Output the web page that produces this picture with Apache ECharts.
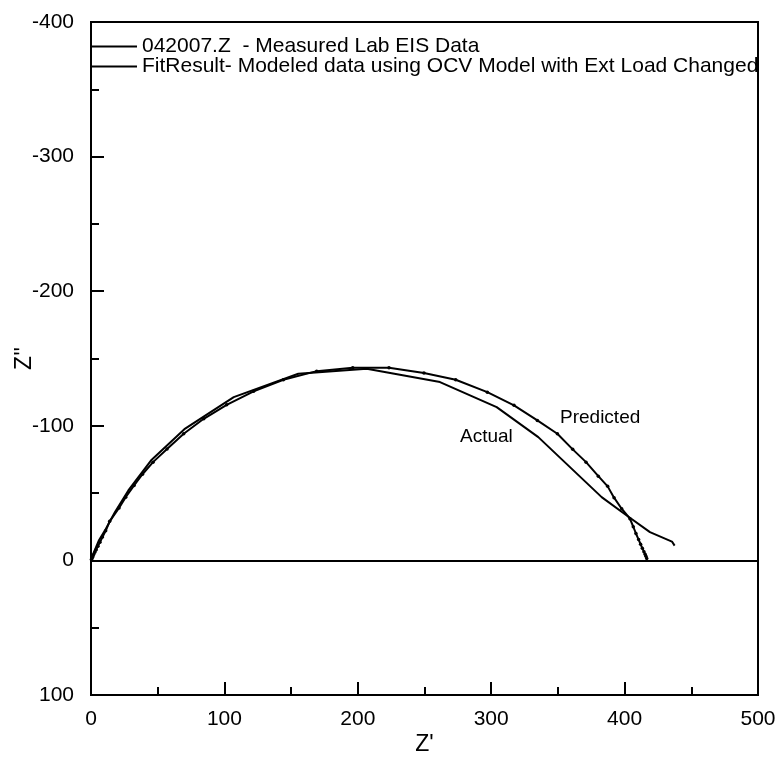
<!DOCTYPE html>
<html>
<head>
<meta charset="utf-8">
<title>EIS Nyquist</title>
<script src="https://cdn.jsdelivr.net/npm/echarts@6/dist/echarts.min.js"></script>
<style>
    html, body { margin: 0; padding: 0; background: #fff; }
    #chart { width: 775px; height: 772px; }
</style>
</head>
<body>
<div id="chart"></div>
<script>
// 坐标轴刻度
var xTicks = [0, 100, 200, 300, 400, 500];
var yTicks = [-400, -300, -200, -100, 0, 100];

// 042007.Z 实测数据 (Actual)
var measuredZre = [0, 1, 3, 6, 10.5, 18, 28, 45.5, 70, 107, 155.4, 206.7, 261.6, 304.1, 335.3, 382.8, 401.6, 419, 435.5, 437.5];
var measuredZim = [0, -3, -8, -15, -22.3, -36, -52, -74.8, -97.5, -121.3, -138.7, -142.4, -132.5, -113.9, -91.6, -47, -33.4, -21, -14, -11];

// FitResult 模型数据 (Predicted)
var fitZre = [0.3, 0.7, 1.1, 1.6, 2.2, 3, 3.9, 5.2, 6.7, 8.6, 11, 14, 21, 26, 32.3, 38.6, 46.5, 57, 69.5, 84.5, 101.7, 121.9, 144.2, 169.2, 196.2, 223.4, 249.6, 273.4, 297.1, 317.1, 334.6, 349.6, 361.1, 371.1, 380.3, 387.3, 392.1, 397.8, 404, 406.5, 408.5, 410.5, 412, 413.3, 414.5, 415.4, 416, 416.6];
var fitZim = [-0.6, -1.4, -2.3, -3.4, -4.7, -6.3, -8, -10.6, -13.5, -17.3, -22, -29, -39, -47, -55.7, -64, -73, -82.7, -94.1, -105.2, -115.6, -125.6, -134.2, -140.6, -143.2, -143.2, -139.2, -134.2, -125, -115.2, -104, -94.1, -82.5, -73, -62.6, -55, -46.6, -38.4, -31, -25, -20, -15.5, -12, -9, -6.5, -4.5, -3, -1.5];

var legendNames = ['042007.Z  - Measured Lab EIS Data', 'FitResult- Modeled data using OCV Model with Ext Load Changed'];

var font = 'Arial, "Liberation Sans", sans-serif';

function pairs(xs, ys) {
    return xs.map(function (x, i) { return [x, ys[i]]; });
}

var chart = echarts.init(document.getElementById('chart'));

var option = {
    backgroundColor: '#fff',
    animation: false,
    grid: {
        left: 91, top: 22, width: 667, height: 673,
        outerBoundsMode: 'none',
        containLabel: false,
        show: true, borderColor: '#000', borderWidth: 2, backgroundColor: 'transparent'
    },
    legend: {
        orient: 'vertical',
        left: 91, top: 36,
        padding: 0,
        icon: 'rect',
        itemWidth: 46, itemHeight: 2,
        itemGap: -1,
        data: legendNames,
        textStyle: { color: '#000', fontSize: 21, fontFamily: font, lineHeight: 18 }
    },
    xAxis: {
        type: 'value',
        min: xTicks[0], max: xTicks[xTicks.length - 1], interval: 100,
        name: "Z'",
        nameLocation: 'middle', nameGap: 38,
        nameMoveOverlap: false,
        nameTextStyle: { color: '#000', fontSize: 23, fontFamily: font },
        axisLine: { onZero: false, lineStyle: { color: '#000', width: 2 } },
        axisTick: { inside: true, length: 13, lineStyle: { color: '#000', width: 2 } },
        minorTick: { show: true, splitNumber: 2, length: 8, lineStyle: { color: '#000', width: 2 } },
        axisLabel: { color: '#000', fontSize: 21, fontFamily: font, margin: 14 },
        splitLine: { show: false }
    },
    yAxis: {
        type: 'value',
        inverse: true,
        min: yTicks[0], max: yTicks[yTicks.length - 1], interval: 100,
        name: "Z''",
        nameLocation: 'middle', nameGap: 55,
        nameMoveOverlap: false,
        nameRotate: 90,
        nameTextStyle: { color: '#000', fontSize: 23, fontFamily: font },
        axisLine: { onZero: false, lineStyle: { color: '#000', width: 2 } },
        axisTick: { inside: true, length: 13, lineStyle: { color: '#000', width: 2 } },
        minorTick: { show: true, splitNumber: 2, length: 8, lineStyle: { color: '#000', width: 2 } },
        axisLabel: { color: '#000', fontSize: 21, fontFamily: font, margin: 17 },
        splitLine: { show: false }
    },
    series: [{
        name: legendNames[0],
        type: 'line',
        data: pairs(measuredZre, measuredZim),
        showSymbol: false,
        symbol: 'none',
        lineStyle: { color: '#000', width: 2 },
        itemStyle: { color: '#000' },
        markLine: {
            silent: true,
            symbol: 'none',
            label: { show: false },
            lineStyle: { color: '#000', width: 2, type: 'solid' },
            data: [{ yAxis: 0 }]
        }
    }, {
        name: legendNames[1],
        type: 'line',
        data: pairs(fitZre, fitZim),
        symbol: 'circle',
        symbolSize: 3.5,
        lineStyle: { color: '#000', width: 2 },
        itemStyle: { color: '#000' }
    }],
    graphic: [{
        type: 'text', left: 560, top: 408,
        style: { text: 'Predicted', fill: '#000', font: '19px ' + font }
    }, {
        type: 'text', left: 460, top: 427,
        style: { text: 'Actual', fill: '#000', font: '19px ' + font }
    }]
};

chart.setOption(option);
</script>
</body>
</html>
